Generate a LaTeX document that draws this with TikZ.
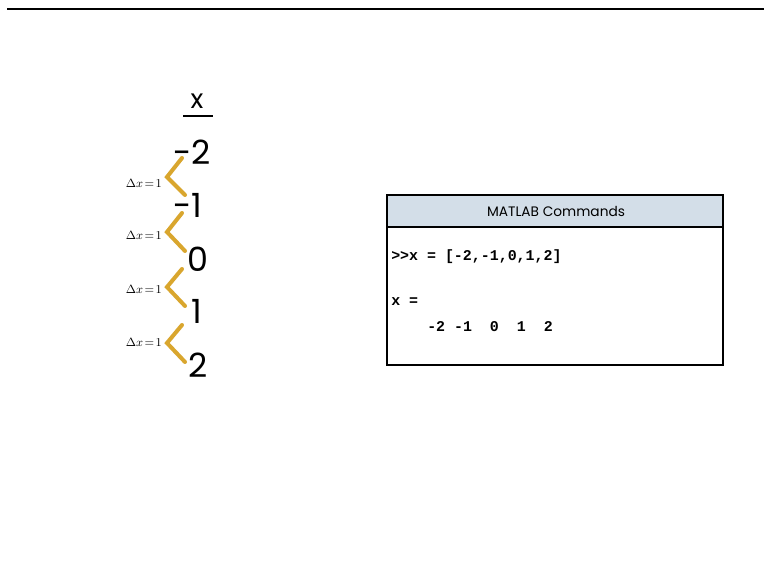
\documentclass[tikz,border=0pt]{standalone}
\usepackage{fontspec}
\setmainfont{Poppins}
\newfontfamily\codefont{Liberation Mono}
\definecolor{gold}{HTML}{D9A62E}
\definecolor{headfill}{HTML}{D3DEE8}
\tikzset{
  num/.style={font=\fontsize{25}{25}\selectfont, inner sep=0pt, anchor=center},
  chev/.style={draw=gold, line width=3pt, line cap=round, line join=miter},
  dlabel/.style={font=\fontsize{9.5}{9.5}\selectfont\rmfamily, inner sep=0pt, anchor=east},
  code/.style={font=\fontsize{11.2}{11.2}\selectfont\codefont\bfseries, inner sep=0pt, anchor=west},
}
\begin{document}
\begin{tikzpicture}[x=0.75pt,y=-0.75pt]
\useasboundingbox[fill=white] (0,0) rectangle (764,580);
\draw[line width=1.6pt] (7,9) -- (764,9);
% header x
\node[font=\fontsize{20}{20}\selectfont, inner sep=0pt] (hx) at (197,101) {x};
\draw[line width=1.2pt] (183,116) -- (213,116);
% numbers
\node[num] (n1) at (192,152) {-2};
\node[num] (n2) at (188,205) {-1};
\node[num] (n3) at (198,259) {0};
\node[num] (n4) at (197,311) {1};
\node[num] (n5) at (198,365) {2};
% chevrons
\draw[chev] (182,158) -- (167,177) -- (185,195);
\draw[chev] (182,213) -- (167,232) -- (185,251);
\draw[chev] (182,269) -- (167,287) -- (185,306);
\draw[chev] (182,325) -- (167,343) -- (185,362);
% labels
\node[dlabel] (d1) at (162,183) {$\Delta x\!=\!1$};
\node[dlabel] (d2) at (162,235) {$\Delta x\!=\!1$};
\node[dlabel] (d3) at (162,289) {$\Delta x\!=\!1$};
\node[dlabel] (d4) at (162,342) {$\Delta x\!=\!1$};
% box
\draw[fill=headfill, line width=0.9pt] (387,195) rectangle (723,227);
\draw[line width=0.9pt] (387,227) rectangle (723,365);
\node[font=\fontsize{10.3}{10.3}\selectfont, inner sep=0pt] (title) at (556,211) {MATLAB Commands};
\node[code] (c1) at (391,257) {>>x = [-2,-1,0,1,2]};
\node[code] (c2) at (391,302) {x =};
\node[code] (c3) at (427,327) {-2 -1\ \ 0\ \ 1\ \ 2};
\end{tikzpicture}
\end{document}
